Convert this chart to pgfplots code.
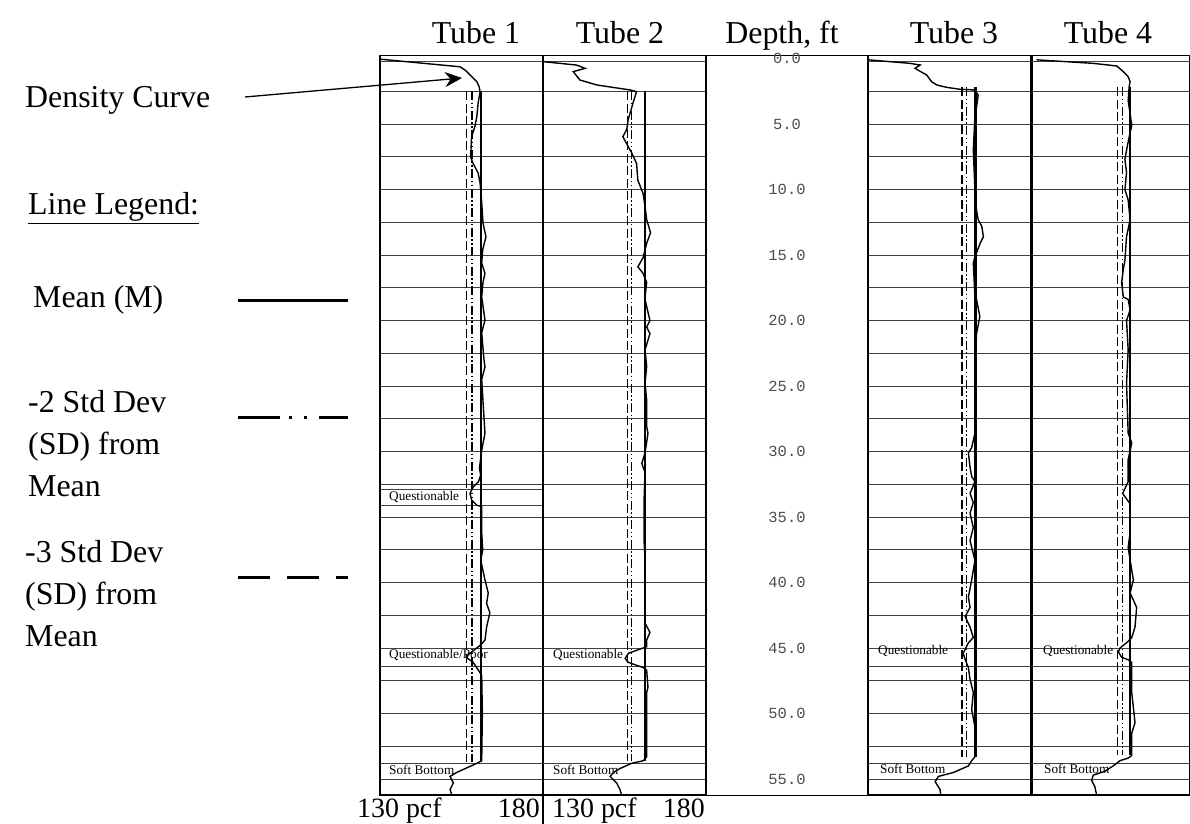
\documentclass[border=0pt]{standalone}
\usepackage{pgfplots}
\pgfplotsset{compat=1.18}
\usepackage{fontspec}
\setmainfont{Liberation Serif}
\newfontfamily\monofont{Liberation Mono}
\usetikzlibrary{arrows.meta}
\pgfplotsset{
  tube/.style={
    scale only axis, anchor=south west,
    width=163bp, height=739.5bp,
    xmin=130, xmax=180, ymin=-0.23, ymax=56.22, y dir=reverse,
    xtick=\empty, ytick={2.5,5,...,55}, yticklabels={},
    major tick length=0pt,
    ymajorgrids, grid style={line width=1bp, black!75},
    extra y tick labels={},
    axis line style={line width=1.2bp},
  },
  meanline/.style={black, line width=2.6bp},
  sdtwo/.style={black, line width=1.4bp, dash pattern=on 9bp off 2.5bp on 1.5bp off 2.5bp on 1.5bp off 2.5bp},
  sdthree/.style={black, line width=1.4bp, dash pattern=on 9bp off 3.5bp},
  dens/.style={black, line width=1.4bp},
}
\newcommand{\bigfont}{\fontsize{32}{38}\selectfont}
\newcommand{\smallfont}{\fontsize{13.3}{15}\selectfont}
\begin{document}
\begin{tikzpicture}[x=1bp,y=1bp]
\useasboundingbox (0bp,0bp) rectangle (1190bp,824bp);

% ---------------- Tube 1
\begin{axis}[tube, at={(380bp,29bp)}, extra y ticks={0.2,32.9,34.1,46.4,53.8}]
\addplot[sdthree] coordinates {(156.6,2.5) (156.6,53.7)};
\addplot[sdtwo] coordinates {(158.2,2.5) (158.2,53.7)};
\addplot[meanline] coordinates {(161.0,2.5) (161.0,53.7)};
\addplot[dens] coordinates {
(130.0,0.05) (154.5,0.63) (156.1,0.88) (159.7,1.77) (160.4,2.15) (160.7,2.53)
(160.1,3.4) (159.7,4.44) (159.1,5.2) (158.1,5.97) (157.8,7.5) (158.5,7.98)
(160.1,8.74) (160.7,9.5) (161.2,11.0) (161.6,12.56) (162.5,13.6) (161.5,14.6)
(161.2,15.6) (162.2,16.4) (161.6,17.1) (161.2,18.2) (162.2,19.96) (161.2,20.95)
(161.9,23.0) (162.2,23.55) (161.2,24.5) (161.7,26.6) (162.2,28.6) (161.2,29.9)
(160.5,31.3) (160.9,31.8) (160.2,32.3) (158.6,32.7) (157.6,33.2) (158.1,33.7)
(159.7,34.1) (161.2,34.2) (161.2,36.2) (161.5,37.5) (160.9,38.3) (162.2,39.8)
(163.2,40.8) (162.7,41.6) (163.7,42.3) (162.7,43.4) (162.2,44.4) (160.7,44.8)
(157.1,45.5) (156.6,45.75) (158.6,46.1) (160.2,46.7) (160.7,46.9) (161.2,47.1)
(161.4,50.0) (161.2,53.6) (159.7,53.8) (153.5,54.5) (151.5,54.8) (152.5,55.3)
(151.5,55.8) (152.0,56.2)};
\end{axis}

% ---------------- Tube 2
\begin{axis}[tube, at={(543bp,29bp)}, extra y ticks={0.2,46.4,53.8}]
\addplot[sdthree] coordinates {(155.9,2.5) (155.9,53.6)};
\addplot[sdtwo] coordinates {(157.2,2.5) (157.2,53.6)};
\addplot[meanline] coordinates {(161.3,2.5) (161.3,53.6)};
\addplot[dens] coordinates {
(130.1,0.24) (140.3,0.5) (142.9,0.75) (139.3,1.0) (141.3,1.64) (146.5,2.02)
(156.7,2.4) (158.7,2.53) (157.6,3.4) (156.1,4.7) (155.7,5.4) (154.5,5.97)
(156.1,6.7) (157.2,7.2) (158.7,8.0) (159.1,9.3) (160.7,10.3) (161.3,11.3)
(161.8,12.3) (163.0,13.3) (161.8,14.1) (160.7,15.2) (159.1,15.9) (160.7,16.4)
(161.8,17.1) (161.3,18.2) (161.3,18.4) (162.8,20.0) (161.8,20.5) (162.8,21.0)
(161.3,22.25) (161.8,23.5) (161.3,24.8) (161.8,26.1) (161.8,28.1) (162.2,28.6)
(161.3,30.1) (160.3,30.9) (161.3,31.6) (161.0,33.7) (161.0,36.8) (161.3,38.3)
(161.3,43.1) (162.8,43.8) (161.8,44.4) (161.8,44.9) (156.2,45.4) (155.2,45.8)
(156.2,46.1) (160.8,46.5) (161.8,46.7) (162.2,48.0) (161.8,48.4) (161.8,53.3)
(160.8,53.6) (157.2,53.8) (153.6,54.2) (151.6,54.5) (150.6,54.8) (152.6,55.3)
(153.6,55.8) (154.1,56.2)};
\end{axis}

% ---------------- Depth column
\begin{axis}[scale only axis, anchor=south west, at={(706bp,29bp)},
  width=162bp, height=739.5bp, xmin=0, xmax=1,
  ymin=-0.23, ymax=56.22, y dir=reverse,
  xtick=\empty, ytick={0,5,...,55},
  yticklabels={0.0,5.0,10.0,15.0,20.0,25.0,30.0,35.0,40.0,45.0,50.0,55.0},
  major tick length=0pt,
  yticklabel style={anchor=center, xshift=81bp, text=black!70,
    font=\monofont\fontsize{15.5}{15.5}\selectfont},
  axis line style={line width=1bp}]
\end{axis}

% ---------------- Tube 3
\begin{axis}[tube, at={(868bp,29bp)}, extra y ticks={0.2,46.4,53.8}]
\addplot[sdthree] coordinates {(158.8,2.2) (158.8,53.3)};
\addplot[sdtwo] coordinates {(160.3,2.2) (160.3,53.3)};
\addplot[meanline] coordinates {(163.0,2.2) (163.0,53.3)};
\addplot[dens] coordinates {
(130.1,0.1) (142.9,0.37) (146.0,0.5) (144.4,0.75) (148.0,1.26) (149.5,1.77)
(151.1,2.02) (154.1,2.2) (158.2,2.35) (162.8,2.4) (163.8,2.8) (163.3,3.7)
(162.8,4.4) (162.3,7.0) (162.8,10.0) (163.3,11.6) (163.8,12.3) (164.9,12.8)
(165.4,13.6) (164.4,14.1) (162.8,15.15) (162.3,15.6) (162.8,18.2) (163.3,18.4)
(164.3,19.7) (163.3,21.0) (162.8,23.5) (162.8,28.6) (161.8,29.7) (160.8,30.1)
(161.3,31.2) (161.8,31.9) (162.8,32.3) (161.3,33.2) (162.3,33.9) (161.3,34.7)
(162.3,35.8) (161.3,36.8) (162.8,38.3) (161.8,39.8) (160.8,41.1) (161.3,41.9)
(159.8,42.6) (161.3,43.4) (162.3,44.2) (160.8,44.6) (159.2,45.4) (159.7,45.8)
(160.8,46.5) (161.3,47.4) (162.3,48.4) (161.8,49.7) (162.8,51.0) (162.8,52.5)
(162.8,53.3) (161.8,53.6) (160.8,54.0) (156.2,54.5) (151.6,54.8) (150.6,55.2)
(152.1,55.8) (152.3,56.2)};
\end{axis}

% ---------------- Tube 4
\begin{axis}[tube, at={(1032bp,29bp)}, width=158bp, xmax=178.47, extra y ticks={0.2,46.4,53.8}]
\addplot[sdthree] coordinates {(156.2,2.2) (156.2,53.2)};
\addplot[sdtwo] coordinates {(157.8,2.2) (157.8,53.2)};
\addplot[meanline] coordinates {(160.1,2.2) (160.1,53.2)};
\addplot[dens] coordinates {
(131.4,0.1) (148.8,0.37) (156.0,0.57) (158.0,1.0) (159.5,1.39) (160.1,1.77)
(159.8,2.15) (159.5,3.2) (160.6,5.1) (159.8,6.0) (159.0,7.0) (158.5,7.7)
(159.0,8.7) (158.5,10.0) (159.5,10.8) (160.1,12.3) (159.0,13.6) (158.5,15.4)
(158.0,16.1) (157.5,17.1) (158.0,18.2) (159.5,18.4) (160.1,19.2) (159.0,20.0)
(159.5,22.25) (159.0,24.8) (159.5,28.6) (160.6,29.35) (159.5,30.6) (159.5,32.3)
(157.8,33.2) (160.1,34.0) (160.1,36.2) (159.5,37.3) (160.1,38.3) (161.1,39.8)
(160.1,40.8) (162.1,41.9) (161.6,43.4) (160.6,44.2) (159.0,44.6) (157.0,45.0)
(156.5,45.3) (157.5,45.7) (159.5,45.9) (160.6,46.1) (160.6,48.4) (161.6,50.7)
(160.6,51.5) (160.6,53.2) (159.5,53.4) (157.0,53.6) (154.9,54.0) (152.4,54.4)
(148.8,54.7) (148.3,55.1) (149.3,55.6) (149.8,56.2)};
\end{axis}

% separator below tubes 1/2
\draw[line width=1.2bp] (543bp,29bp) -- (543bp,0bp);

% titles
\node[anchor=base, font=\bigfont, inner sep=0pt] at (476bp,780.5bp) {Tube 1};
\node[anchor=base, font=\bigfont, inner sep=0pt] at (620bp,780.5bp) {Tube 2};
\node[anchor=base, font=\bigfont, inner sep=0pt] at (782bp,780.5bp) {Depth, ft};
\node[anchor=base, font=\bigfont, inner sep=0pt] at (954bp,780.5bp) {Tube 3};
\node[anchor=base, font=\bigfont, inner sep=0pt] at (1108bp,780.5bp) {Tube 4};

% bottom scale labels
\node[anchor=base west, font=\fontsize{28}{30}\selectfont, inner sep=0pt] at (357bp,7bp) {130 pcf};
\node[anchor=base east, font=\fontsize{28}{30}\selectfont, inner sep=0pt] at (540bp,7bp) {180};
\node[anchor=base west, font=\fontsize{28}{30}\selectfont, inner sep=0pt] at (552bp,7bp) {130 pcf};
\node[anchor=base east, font=\fontsize{28}{30}\selectfont, inner sep=0pt] at (705bp,7bp) {180};

% annotations inside tubes
\node[anchor=west, font=\smallfont, inner sep=0pt] at (389bp,327bp) {Questionable};
\node[anchor=west, font=\smallfont, inner sep=0pt] at (389bp,169bp) {Questionable/Poor};
\node[anchor=west, font=\smallfont, inner sep=0pt] at (553bp,169bp) {Questionable};
\node[anchor=west, font=\smallfont, inner sep=0pt] at (389bp,54bp) {Soft Bottom};
\node[anchor=west, font=\smallfont, inner sep=0pt] at (553bp,54bp) {Soft Bottom};
\node[anchor=west, font=\smallfont, inner sep=0pt] at (878bp,173bp) {Questionable};
\node[anchor=west, font=\smallfont, inner sep=0pt] at (880bp,55bp) {Soft Bottom};
\node[anchor=west, font=\smallfont, inner sep=0pt] at (1043bp,173bp) {Questionable};
\node[anchor=west, font=\smallfont, inner sep=0pt] at (1044bp,55bp) {Soft Bottom};

% left-hand annotations
\node[anchor=base west, font=\bigfont, inner sep=0pt] at (25bp,716bp) {Density Curve};
\draw[line width=1.3bp, -{Stealth[length=17bp,width=15bp]}] (245bp,727bp) -- (462bp,746bp);
\node[anchor=base west, font=\bigfont, inner sep=0pt] at (28bp,609bp) {\underline{Line Legend:}};
\node[anchor=base west, font=\bigfont, inner sep=0pt] at (33bp,516bp) {Mean (M)};
\node[anchor=base west, font=\bigfont, inner sep=0pt] at (28bp,411bp) {-2 Std Dev};
\node[anchor=base west, font=\bigfont, inner sep=0pt] at (28bp,369bp) {(SD) from};
\node[anchor=base west, font=\bigfont, inner sep=0pt] at (28bp,327bp) {Mean};
\node[anchor=base west, font=\bigfont, inner sep=0pt] at (25bp,261bp) {-3 Std Dev};
\node[anchor=base west, font=\bigfont, inner sep=0pt] at (25bp,219bp) {(SD) from};
\node[anchor=base west, font=\bigfont, inner sep=0pt] at (25bp,177bp) {Mean};
\draw[line width=3bp] (238bp,523bp) -- (348bp,523bp);
\draw[line width=3bp, dash pattern=on 42bp off 9bp on 3bp off 12bp on 3bp off 12bp] (238bp,406bp) -- (348bp,406bp);
\draw[line width=3bp, dash pattern=on 32bp off 17bp] (238bp,246bp) -- (348bp,246bp);
\end{tikzpicture}
\end{document}
